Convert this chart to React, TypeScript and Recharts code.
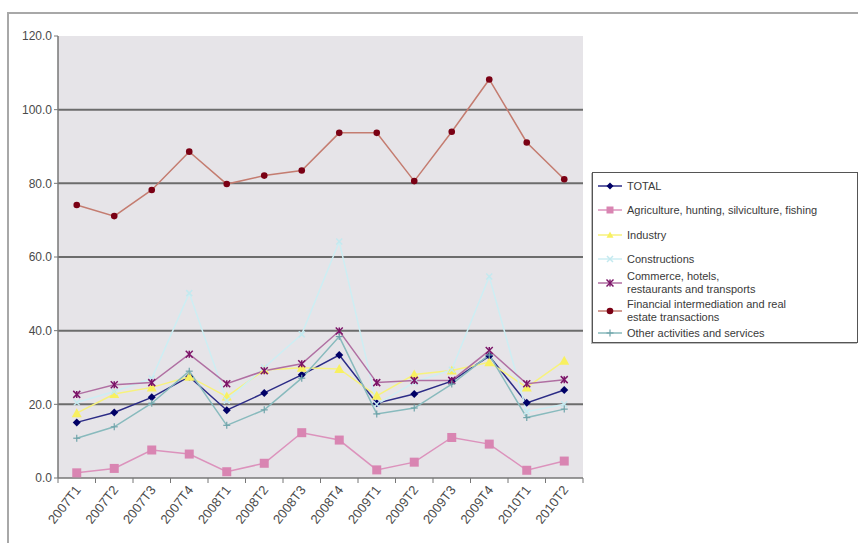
import { LineChart, Line, XAxis, YAxis, CartesianGrid, ReferenceLine } from "recharts";

const categories = [
  "2007T1", "2007T2", "2007T3", "2007T4", "2008T1", "2008T2", "2008T3",
  "2008T4", "2009T1", "2009T2", "2009T3", "2009T4", "2010T1", "2010T2",
];
const total = [15.1, 17.8, 21.9, 27.5, 18.4, 23.1, 28.0, 33.4, 20.3, 22.8, 26.3, 33.1, 20.4, 23.9];
const agriculture = [1.4, 2.6, 7.6, 6.5, 1.7, 4.0, 12.3, 10.3, 2.2, 4.3, 11.0, 9.2, 2.1, 4.6];
const industry = [17.6, 22.8, 24.6, 27.5, 22.1, 29.3, 29.9, 29.6, 22.3, 28.1, 29.2, 31.4, 24.6, 31.8];
const constructions = [20.5, 23.5, 27.0, 50.2, 21.0, 30.0, 39.0, 64.2, 20.0, 26.0, 29.4, 54.7, 18.0, 20.0];
const commerce = [22.7, 25.3, 25.9, 33.6, 25.6, 29.1, 31.0, 39.9, 25.9, 26.5, 26.5, 34.6, 25.6, 26.7];
const financial = [74.1, 71.1, 78.2, 88.6, 79.8, 82.1, 83.5, 93.7, 93.7, 80.6, 94.0, 108.2, 91.1, 81.1];
const other = [10.8, 13.9, 20.3, 29.0, 14.3, 18.5, 27.1, 38.4, 17.4, 19.0, 25.5, 33.4, 16.4, 18.7];

const yTicks = [0, 20, 40, 60, 80, 100, 120];
const gridValues = [20, 40, 60, 80, 100];

const data = categories.map((name, i) => ({
  name,
  total: total[i],
  agriculture: agriculture[i],
  industry: industry[i],
  constructions: constructions[i],
  commerce: commerce[i],
  financial: financial[i],
  other: other[i],
}));

type Shape = "diamond" | "square" | "triangle" | "x" | "star" | "circle" | "plus";

const series: { key: string; label: string[]; line: string; mark: string; shape: Shape; size: number }[] = [
  { key: "total", label: ["TOTAL"], line: "#2c2c86", mark: "#000066", shape: "diamond", size: 4 },
  { key: "agriculture", label: ["Agriculture, hunting, silviculture, fishing"], line: "#dc92bc", mark: "#d985b2", shape: "square", size: 4.5 },
  { key: "industry", label: ["Industry"], line: "#f7f27c", mark: "#f8f060", shape: "triangle", size: 5 },
  { key: "constructions", label: ["Constructions"], line: "#cdeef3", mark: "#c4e9ef", shape: "x", size: 3 },
  { key: "commerce", label: ["Commerce, hotels,", "restaurants and transports"], line: "#b06fa2", mark: "#7c1468", shape: "star", size: 3.5 },
  { key: "financial", label: ["Financial intermediation and real", "estate transactions"], line: "#c47c70", mark: "#7a0014", shape: "circle", size: 3.3 },
  { key: "other", label: ["Other activities and services"], line: "#88babd", mark: "#6fa4aa", shape: "plus", size: 3.5 },
];

const FONT = "'Liberation Sans', Arial, sans-serif";
const W = 858;
const H = 543;
const PLOT_LEFT = 58;
const PLOT_RIGHT = 583;
const PLOT_TOP = 36;
const PLOT_BOTTOM = 478;
const HALF_BAND = (PLOT_RIGHT - PLOT_LEFT) / categories.length / 2;

const Marker = ({ cx, cy, shape, color, size }: { cx: number; cy: number; shape: Shape; color: string; size: number }) => {
  const s = size;
  switch (shape) {
    case "diamond":
      return <polygon points={`${cx},${cy - s} ${cx + s},${cy} ${cx},${cy + s} ${cx - s},${cy}`} fill={color} />;
    case "square":
      return <rect x={cx - s} y={cy - s} width={2 * s} height={2 * s} fill={color} />;
    case "triangle":
      return <polygon points={`${cx},${cy - s} ${cx + s},${cy + s * 0.8} ${cx - s},${cy + s * 0.8}`} fill={color} />;
    case "x":
      return (
        <g stroke={color} strokeWidth={1.5}>
          <line x1={cx - s} y1={cy - s} x2={cx + s} y2={cy + s} />
          <line x1={cx - s} y1={cy + s} x2={cx + s} y2={cy - s} />
        </g>
      );
    case "star":
      return (
        <g stroke={color} strokeWidth={1.5}>
          <line x1={cx - s} y1={cy - s} x2={cx + s} y2={cy + s} />
          <line x1={cx - s} y1={cy + s} x2={cx + s} y2={cy - s} />
          <line x1={cx} y1={cy - s} x2={cx} y2={cy + s} />
        </g>
      );
    case "plus":
      return (
        <g stroke={color} strokeWidth={1.2}>
          <line x1={cx - s} y1={cy} x2={cx + s} y2={cy} />
          <line x1={cx} y1={cy - s} x2={cx} y2={cy + s} />
        </g>
      );
    default:
      return <circle cx={cx} cy={cy} r={s} fill={color} />;
  }
};

const makeDot = (shape: Shape, color: string, size: number) => (props: any) => {
  const { cx, cy, index } = props;
  if (cx == null || cy == null) return <g key={index} />;
  return (
    <g key={index}>
      <Marker cx={cx} cy={cy} shape={shape} color={color} size={size} />
    </g>
  );
};

const XTick = (props: any) => {
  const { x, y, payload, index } = props;
  const last = index === categories.length - 1;
  return (
    <g>
      <line x1={x - HALF_BAND} y1={y} x2={x - HALF_BAND} y2={y + 5} stroke="#777" />
      {last && <line x1={x + HALF_BAND} y1={y} x2={x + HALF_BAND} y2={y + 5} stroke="#777" />}
      <text
        transform={`translate(${x + 2},${y + 10}) rotate(-52)`}
        textAnchor="end"
        dominantBaseline="middle"
        fontSize={13}
        fill="#4a4a4a"
        fontFamily={FONT}
      >
        {payload.value}
      </text>
    </g>
  );
};

// legend row centers, relative to the legend box
const rowCenters = [13, 37, 62, 86, 110, 138, 160];

const LegendBox = () => (
  <div
    style={{
      position: "absolute",
      left: 592,
      top: 172,
      width: 264,
      height: 169,
      border: "1px solid #555",
      background: "#fff",
      boxShadow: "-1px 1px 0 #bbb",
      fontFamily: FONT,
      fontSize: 11,
      color: "#3a3a3a",
    }}
  >
    {series.map((s, i) => (
      <div key={s.key} style={{ position: "absolute", left: 4, top: rowCenters[i] - 8, height: 16 }}>
        <svg width={26} height={16} style={{ position: "absolute", left: 0, top: 0 }}>
          <line x1={1} y1={8} x2={25} y2={8} stroke={s.line} strokeWidth={1.5} />
          <Marker cx={13} cy={8} shape={s.shape} color={s.mark} size={Math.min(s.size, 3.5)} />
        </svg>
        <div
          style={{
            position: "absolute",
            left: 30,
            top: s.label.length > 1 ? 8 - 13.5 : 1,
            whiteSpace: "nowrap",
            lineHeight: s.label.length > 1 ? "13.5px" : "14px",
          }}
        >
          {s.label.map((t) => (
            <div key={t}>{t}</div>
          ))}
        </div>
      </div>
    ))}
  </div>
);

export default function App() {
  return (
    <div style={{ position: "absolute", left: 0, top: 0, width: W, height: H, background: "#fff", overflow: "hidden" }}>
      <div
        style={{
          position: "absolute",
          left: 7,
          top: 12,
          width: W,
          height: H - 14,
          borderTop: "2px solid #a8a8a8",
          borderLeft: "2px solid #a8a8a8",
        }}
      />
      <div style={{ position: "absolute", left: 0, top: 0 }}>
        <LineChart
          width={W}
          height={H}
          data={data}
          margin={{ top: PLOT_TOP, right: W - PLOT_RIGHT, left: 0, bottom: 0 }}
        >
          <CartesianGrid fill="#e6e4e8" horizontal={false} vertical={false} />
          {gridValues.map((v) => (
            <ReferenceLine key={v} y={v} stroke="#6c6c6c" strokeWidth={2} />
          ))}
          <XAxis
            dataKey="name"
            height={H - PLOT_BOTTOM}
            padding={{ left: HALF_BAND, right: HALF_BAND }}
            axisLine={{ stroke: "#777", strokeWidth: 1.5 }}
            tickLine={false}
            tickSize={0}
            tickMargin={0}
            interval={0}
            tick={<XTick />}
          />
          <YAxis
            width={PLOT_LEFT}
            domain={[0, 120]}
            ticks={yTicks}
            interval={0}
            axisLine={{ stroke: "#777", strokeWidth: 1.5 }}
            tickLine={{ stroke: "#777" }}
            tickSize={4}
            tickMargin={2}
            tickFormatter={(v: number) => v.toFixed(1)}
            tick={{ fontSize: 12, fill: "#4a4a4a", fontFamily: FONT }}
          />
          {series.map((s) => (
            <Line
              key={s.key}
              dataKey={s.key}
              type="linear"
              stroke={s.line}
              strokeWidth={1.5}
              dot={makeDot(s.shape, s.mark, s.size)}
              activeDot={false}
              isAnimationActive={false}
            />
          ))}
        </LineChart>
      </div>
      <LegendBox />
    </div>
  );
}
